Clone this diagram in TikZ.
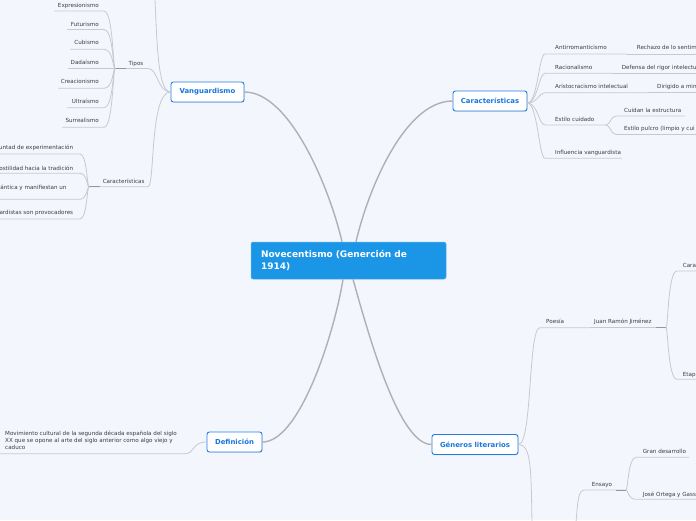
\documentclass[tikz,border=0pt]{standalone}
\usepackage{fontspec}
\setmainfont{DejaVu Sans}
\usetikzlibrary{shadows}
\definecolor{bgc}{RGB}{243,246,253}
\definecolor{cenfill}{RGB}{27,150,231}
\definecolor{cenb}{RGB}{90,175,240}
\definecolor{mainb}{RGB}{38,125,225}
\definecolor{maint}{RGB}{24,118,222}
\definecolor{leafc}{RGB}{60,60,66}
\definecolor{mlinec}{RGB}{176,176,180}
\definecolor{slinec}{RGB}{200,201,206}
\definecolor{dlinec}{RGB}{150,150,155}
\begin{document}
\begin{tikzpicture}[x=1pt,y=-1pt,
  leaf/.style={inner sep=0pt, text=leafc, font=\fontsize{5.6}{6.8}\selectfont},
  topic/.style={draw=mainb, line width=0.9pt, fill=white, rounded corners=2.5pt, text=maint,
    font=\bfseries\fontsize{6.9}{8}\selectfont, minimum height=20pt, inner sep=0pt,
    drop shadow={opacity=0.18, shadow xshift=0.6pt, shadow yshift=-0.8pt}},
  mline/.style={draw=mlinec, line width=1.4pt},
  sline/.style={draw=slinec, line width=0.8pt},
  dseg/.style={draw=dlinec, line width=0.9pt}]
\path[use as bounding box, fill=bgc] (0,0) rectangle (696,520);

% central
\node[fill=cenfill, draw=cenb, line width=0.5pt, rounded corners=2pt, minimum width=195pt, minimum height=37pt,
  text width=175pt, align=left, inner xsep=10pt, inner ysep=0pt, text=white,
  font=\bfseries\fontsize{9}{11.2}\selectfont] (cen) at (348.5,260.5) {Novecentismo (Generción de\\1914)};

% main topics
\node[topic, minimum width=73pt] (vang) at (207.5,92) {Vanguardismo};
\node[topic, minimum width=74pt] (carac) at (490,101) {Características};
\node[topic, minimum width=55pt] (defi) at (234.5,442) {Definición};
\node[topic, minimum width=86pt] (gen) at (475,444.5) {Géneros literarios};

\draw[mline] (vang.east) .. controls +(46,0) and +(-12,-52) .. ([xshift=-6.5pt]cen.north);
\draw[mline] (carac.west) .. controls +(-48,0) and +(12,-52) .. ([xshift=7.5pt]cen.north);
\draw[mline] (defi.east) .. controls +(38,0) and +(-8,51) .. ([xshift=-5.5pt]cen.south);
\draw[mline] (gen.west) .. controls +(-32,0) and +(17,61) .. ([xshift=4.5pt]cen.south);

% ---------- Vanguardismo
\coordinate (vtop) at (155,0);
\draw[sline] (vang.west) .. controls +(-13,0) and +(2,40) .. (vtop);

\node[leaf, anchor=base] (tipos) at (136,65) {Tipos};
\coordinate (tipF) at (115,68.5);
\coordinate (tipE) at (148,68.5);
\draw[sline] (tipF) -- (tipE) .. controls +(10,0) and +(-13,0) .. (vang.west);
\draw[dseg] (tipF) -- +(11,0);
\foreach \n/\t/\b/\ul/\uy in {exp/Expresionismo/7/54/11, fut/Futurismo/26/67/29.5, cub/Cubismo/44.7/70/49.3,
  dad/Dadaísmo/64.7/68/68.5, cre/Creacionismo/83.7/58/88.3, ult/Ultraísmo/103.7/67/107.7, sur/Surrealismo/122.7/62/127.3}{
  \node[leaf, anchor=base east] (\n) at (99,\b) {\t};
  \coordinate (\n-W) at (\ul,\uy);
  \coordinate (\n-E) at (104,\uy);
  \draw[sline] (\n-W) -- (\n-E) .. controls +(9,0) and +(-2,0) .. (tipF);
}

\node[leaf, anchor=base] (carL) at (123.7,183) {Características};
\coordinate (carLF) at (89,186.7);
\coordinate (carLE) at (148,186.7);
\draw[sline] (carLF) -- (carLE) .. controls +(7,0) and +(-21,0) .. (vang.west);
\draw[dseg] (carLF) -- +(11,0);
\foreach \n/\t/\x/\b/\uy in {cl1/untad de experimentación/73.3/149.7/154, cl2/ostilidad hacia la tradición/73.3/170/173.3,
  cl3/ántica y manifiestan un/66.7/189/199.3, cl4/ardistas son provocadores/73.3/214.7/219}{
  \node[leaf, anchor=base east] (\n) at (\x,\b) {\t};
  \coordinate (\n-W) at (0,\uy);
  \coordinate (\n-E) at (80,\uy);
  \draw[sline] (\n-W) -- (\n-E) .. controls +(7,0) and +(-2,0) .. (carLF);
}

% ---------- Características (right)
\coordinate (carRF) at ([yshift=-2pt]carac.east);
\foreach \n/\t/\b/\uy/\e in {anti/Antirromanticismo/49.7/54/627, rac/Racionalismo/69.7/73.3/612,
  ari/Aristocracismo intelectual/88.7/92.7/648, est/Estilo cuidado/121.3/125/606, inf/Influencia vanguardista/154.3/158.3/622}{
  \node[leaf, anchor=base west] (\n) at (555,\b) {\t};
  \coordinate (\n-W) at (545,\uy);
  \coordinate (\n-E) at (\e,\uy);
  \draw[sline] (carRF) .. controls +(10,0) and +(-6,0) .. (\n-W) -- (\n-E);
}
\foreach \p/\n/\t/\x/\b/\uy in {anti/rech/Rechazo de lo sentim/636.7/49/54, rac/defe/Defensa del rigor intelectua/621.7/69/73.3,
  ari/diri/Dirigido a min/657/88/92.7}{
  \node[leaf, anchor=base west] (\n) at (\x,\b) {\t};
  \coordinate (\n-E) at (698,\uy);
  \draw[sline] (\p-E) -- (\n-E);
}
\foreach \n/\t/\b/\uy/\e in {cui/Cuidan la estructura/112/116/685, pul/Estilo pulcro (limpio y cui/130.3/134.5/698}{
  \node[leaf, anchor=base west] (\n) at (624,\b) {\t};
  \coordinate (\n-W) at (616,\uy);
  \coordinate (\n-E) at (\e,\uy);
  \draw[sline] (est-E) .. controls +(4,0) and +(-5,0) .. (\n-W) -- (\n-E);
}

% ---------- Definición
\node[leaf, anchor=north west, align=left] (deft) at (5,431.3) {Movimiento cultural de la segunda década española del siglo\\XX que se opone al arte del siglo anterior como algo viejo y\\caduco};
\coordinate (deft-W) at (0,453.7);
\coordinate (deft-E) at (185,453.7);
\draw[sline] (deft-W) -- (deft-E) .. controls +(10,0) and +(-15,0) .. (defi.west);

% ---------- Géneros literarios
\node[leaf, anchor=base west] (poe) at (546,323.7) {Poesía};
\coordinate (poe-W) at (540,327.7);
\coordinate (poe-E) at (590,327.7);
\draw[sline] (gen.east) .. controls +(14,0) and +(-12,0) .. (poe-W) -- (poe-E);
\node[leaf, anchor=base west] (jrj) at (594,323.7) {Juan Ramón Jiménez};
\coordinate (jrj-E) at (666,327.7);
\draw[sline] (poe-E) -- (jrj-E);
\draw[dseg] (jrj-E) -- +(-10,0);
\foreach \n/\t/\b/\uy in {cara/Cara/267/271, etap/Etap/376/379.3}{
  \node[leaf, anchor=base west] (\n) at (682.7,\b) {\t};
  \coordinate (\n-W) at (677,\uy);
  \coordinate (\n-E) at (698,\uy);
  \draw[sline] (jrj-E) .. controls +(2,0) and +(-9,0) .. (\n-W) -- (\n-E);
}
\coordinate (genDown) at (532,522);
\draw[sline] (gen.east) .. controls +(13,0) and +(-1,-52) .. (genDown);

\coordinate (ensUp) at (576,522);
\node[leaf, anchor=base west] (ens) at (591.7,486) {Ensayo};
\coordinate (ens-W) at (585,490);
\coordinate (ens-E) at (626,490);
\draw[sline] (ensUp) .. controls +(2,-22) and +(-7,0) .. (ens-W) -- (ens-E);
\draw[dseg] (ens-E) -- +(-10,0);
\foreach \n/\t/\b/\uy/\e in {gran/Gran desarrollo/453/457.3/689, jose/José Ortega y Gass/496/499.3/698}{
  \node[leaf, anchor=base west] (\n) at (642.7,\b) {\t};
  \coordinate (\n-W) at (636,\uy);
  \coordinate (\n-E) at (\e,\uy);
  \draw[sline] (ens-E) .. controls +(2,0) and +(-8,0) .. (\n-W) -- (\n-E);
}
\end{tikzpicture}
\end{document}
